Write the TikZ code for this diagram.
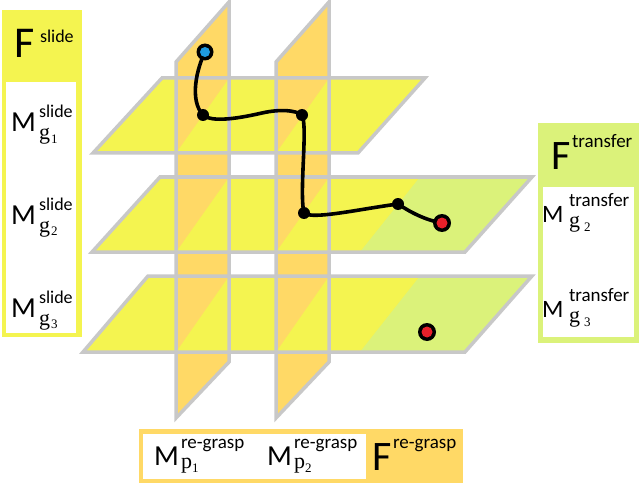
\documentclass[tikz,border=0pt]{standalone}
\usepackage{fontspec}
\setmainfont{Carlito}
\newfontfamily\serf{Liberation Serif}
\definecolor{planeyellow}{HTML}{F4F450}
\definecolor{planeorange}{HTML}{FFD966}
\definecolor{planegreen}{HTML}{DBF27A}
\definecolor{edgegray}{HTML}{C8C8C8}
\definecolor{dotblue}{HTML}{1E9BE0}
\definecolor{dotred}{HTML}{E8202A}
\tikzset{
  edge/.style={draw=edgegray,line width=3.5pt,line join=miter},
  txt/.style={anchor=base west,inner sep=0pt,outer sep=0pt},
  traj/.style={line width=3.6pt,line cap=round},
}
% label M^{sup}_{sub index}
\newcommand\MLab[5]{%
  \node[txt,font=\fontsize{\Msz}{\Msz}\selectfont] (#1M) at (#2,#3) {M};
  \node[txt,font=\fontsize{\Ssz}{\Ssz}\selectfont] (#1S) at ([xshift=\Sdx pt,yshift=\Sraise pt]#1M.base west) {#4};
  \node[txt,font=\fontsize{22}{22}\serf] (#1G) at ([xshift=\Sdx pt,yshift=-\Gdrop pt]#1M.base west) {\Glet};
  \node[txt,font=\fontsize{13}{13}\serf] (#1I) at ([xshift=\Idx pt,yshift=-\Idrop pt]#1M.base west) {#5};
}
\begin{document}
\begin{tikzpicture}[x=1pt,y=-1pt]
\useasboundingbox (0,0) rectangle (640,484);

% vertical planes
\fill[planeorange] (176,62) -- (229,2) -- (229,362) -- (176,418) -- cycle;
\fill[planeorange] (276,62) -- (329,2) -- (329,362) -- (276,418) -- cycle;

% horizontal planes
\fill[planeyellow] (93,153) -- (162,78) -- (425,78) -- (358,153) -- cycle;
\fill[planeyellow] (92,252) -- (160,177) -- (532,177) -- (465,252) -- cycle;
\fill[planeyellow] (83,352) -- (148,276) -- (532,276) -- (465,352) -- cycle;
\fill[planegreen] (360,252) -- (420,177) -- (532,177) -- (465,252) -- cycle;
\fill[planegreen] (360,352) -- (420,276) -- (532,276) -- (465,352) -- cycle;

% parts of the vertical planes in front of the horizontal planes
\foreach \xa/\xb in {176/229,276/329}{
  \foreach \yt/\yb in {78/153,177/252,276/352}{
    \fill[planeorange] (\xa,\yb) -- (\xa,\yt) -- (\xb,\yt) -- cycle;
  }
}

% outlines
\draw[edge] (93,153) -- (162,78) -- (425,78) -- (358,153) -- cycle;
\draw[edge] (92,252) -- (160,177) -- (532,177) -- (465,252) -- cycle;
\draw[edge] (83,352) -- (148,276) -- (532,276) -- (465,352) -- cycle;
\draw[edge] (176,62) -- (229,2) -- (229,362) -- (176,418) -- cycle;
\draw[edge] (276,62) -- (329,2) -- (329,362) -- (276,418) -- cycle;

% trajectory
\coordinate (p0) at (205,52);
\coordinate (p1) at (203,115);
\coordinate (p2) at (302,115);
\coordinate (p3) at (304,213);
\coordinate (p4) at (398,204);
\coordinate (p5) at (442,223);
\coordinate (q) at (427,332);
\coordinate (pm) at (262,113);
\draw[traj] (p0) .. controls (197,68) and (189,100) .. (p1)
  .. controls (212,123) and (240,118) .. (pm)
  .. controls (280,109) and (295,110) .. (p2)
  .. controls (308,126) and (299,192) .. (p3)
  .. controls (312,220) and (360,209) .. (p4)
  .. controls (410,212) and (425,220) .. (p5);
\foreach \p in {p1,p2,p3,p4}{\fill (\p) circle (6);}
\fill (p0) circle (8.5); \fill[dotblue] (p0) circle (5);
\fill (p5) circle (9); \fill[dotred] (p5) circle (5.5);
\fill (q) circle (9); \fill[dotred] (q) circle (5.5);

% left box
\fill[planeyellow] (2,10) rectangle (82,337);
\fill[white] (6,82) rectangle (76,333);
\node[txt,font=\fontsize{44}{44}\selectfont] (Fsl) at (14,58) {F};
\node[txt,font=\fontsize{18}{18}\selectfont] (Fsls) at (40,43) {slide};
\def\Msz{29}\def\Ssz{18}\def\Sdx{28}\def\Sraise{14}\def\Gdrop{8}\def\Idx{40}\def\Idrop{11}\def\Glet{g}
\MLab{sa}{11}{132}{slide}{1}
\MLab{sb}{11}{224}{slide}{2}
\MLab{sc}{11}{317}{slide}{3}

% right box
\fill[planegreen] (538,123) rectangle (639,343);
\fill[white] (543,187) rectangle (634,337);
\node[txt,font=\fontsize{42}{42}\selectfont] (Ftr) at (551,170) {F};
\node[txt,font=\fontsize{19}{19}\selectfont] (Ftrs) at (572,148) {transfer};
\def\Msz{25}\def\Ssz{19}\def\Sdx{27}\def\Sraise{16}\def\Gdrop{5}\def\Idx{42}\def\Idrop{9}\def\Glet{g}
\MLab{ta}{542}{222}{transfer}{2}
\MLab{tb}{542}{317}{transfer}{3}

% bottom box
\fill[planeorange] (139,429) rectangle (463,483);
\fill[white] (143,434) rectangle (366,479);
\def\Msz{29}\def\Ssz{19}\def\Sdx{27}\def\Sraise{17}\def\Gdrop{3}\def\Idx{38}\def\Idrop{7}\def\Glet{p}
\MLab{ra}{154}{465}{re-grasp}{1}
\MLab{rb}{267}{465}{re-grasp}{2}
\node[txt,font=\fontsize{42}{42}\selectfont] (Frg) at (372,470) {F};
\node[txt,font=\fontsize{19}{19}\selectfont] (Frgs) at (393,448) {re-grasp};
\end{tikzpicture}
\end{document}
